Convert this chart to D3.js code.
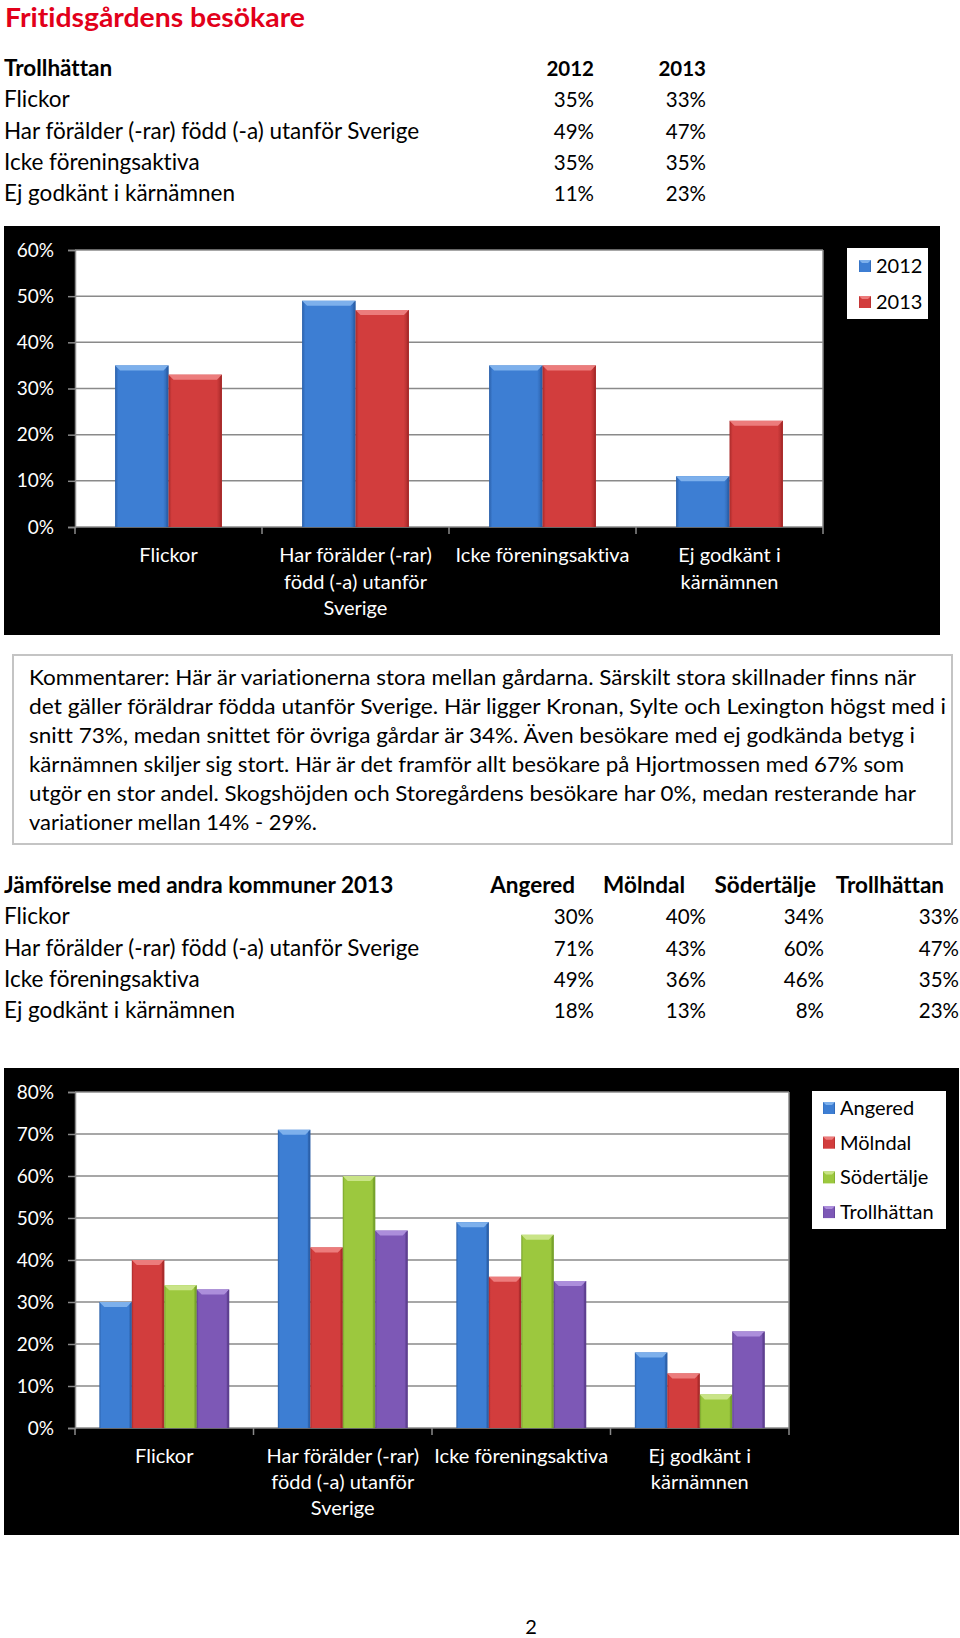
<!DOCTYPE html>
<html><head><meta charset="utf-8">
<script src="https://cdn.jsdelivr.net/npm/d3@7"></script>
<style>
html,body{margin:0;padding:0;background:#fff;}
svg{display:block;font-family:Lato,"Open Sans",sans-serif;font-variant-ligatures:none;font-feature-settings:"liga" 0,"clig" 0;}
</style></head>
<body>
<svg id="page" width="960" height="1638"></svg>
<script>
// ---------- DATA ----------
const titleText = "Fritidsgårdens besökare";
const categories = ["Flickor", "Har förälder (-rar) född (-a) utanför Sverige", "Icke föreningsaktiva", "Ej godkänt i kärnämnen"];
const categoryLines = [["Flickor"], ["Har förälder (-rar)", "född (-a) utanför", "Sverige"], ["Icke föreningsaktiva"], ["Ej godkänt i", "kärnämnen"]];
const years = ["2012", "2013"];
const values2012 = [35, 49, 35, 11];
const values2013 = [33, 47, 35, 23];
const yTicks1 = [0, 10, 20, 30, 40, 50, 60];

const compareTitle = "Jämförelse med andra kommuner 2013";
const municipalities = ["Angered", "Mölndal", "Södertälje", "Trollhättan"];
const valuesAngered = [30, 71, 49, 18];
const valuesMolndal = [40, 43, 36, 13];
const valuesSodertalje = [34, 60, 46, 8];
const valuesTrollhattan = [33, 47, 35, 23];
const yTicks2 = [0, 10, 20, 30, 40, 50, 60, 70, 80];

const commentLines = [
  "Kommentarer: Här är variationerna stora mellan gårdarna. Särskilt stora skillnader finns när",
  "det gäller föräldrar födda utanför Sverige.  Här ligger Kronan, Sylte och Lexington högst med i",
  "snitt 73%, medan  snittet för övriga gårdar är 34%.  Även besökare med ej godkända betyg i",
  "kärnämnen skiljer sig stort. Här är det framför allt besökare på Hjortmossen med 67% som",
  "utgör en stor andel. Skogshöjden och Storegårdens besökare har 0%, medan resterande har",
  "variationer mellan 14% - 29%."
];
const pageNumber = "2";

// ---------- SETUP ----------
const svg = d3.select("#page");
const defs = svg.append("defs");
const palette = {
  blue:   {base:"#3d7ed3", light:"#7db0ec", dark:"#2a5fa8"},
  red:    {base:"#d23d3d", light:"#ec7c7c", dark:"#a82a2a"},
  green:  {base:"#9cc83e", light:"#c9e487", dark:"#76a02a"},
  purple: {base:"#7d58b6", light:"#ac8edb", dark:"#5c3e8e"}
};
Object.entries(palette).forEach(([k, c]) => {
  const g = defs.append("linearGradient").attr("id", "g-" + k).attr("x1", 0).attr("x2", 1).attr("y1", 0).attr("y2", 0);
  [[0, c.dark], [0.06, c.base], [0.35, c.base], [0.9, c.base], [1, c.dark]].forEach(([o, col]) =>
    g.append("stop").attr("offset", o).attr("stop-color", col));
});
const fmtPct = d => d + "%";

// ---------- TITLE ----------
svg.append("text").attr("x", 5).attr("y", 26.5).attr("fill", "#e2001a")
  .attr("font-size", 26).attr("font-weight", "bold")
  .attr("textLength", 300).attr("lengthAdjust", "spacingAndGlyphs").text(titleText);

// ---------- TABLES ----------
function table(yHeader, headerTitle, colNames, colHeaderRight, colValueRight, series, rowGap, colHeadSize) {
  const g = svg.append("g").attr("fill", "#000");
  g.append("text").attr("x", 4).attr("y", yHeader).attr("font-size", 22.5).attr("font-weight", "bold").text(headerTitle);
  colNames.forEach((n, i) => g.append("text").attr("x", colHeaderRight[i]).attr("y", yHeader)
    .attr("text-anchor", "end").attr("font-size", colHeadSize).attr("font-weight", "bold").text(n));
  categories.forEach((c, r) => {
    const y = yHeader + rowGap * (r + 1);
    g.append("text").attr("x", 4).attr("y", y).attr("font-size", 22.5).text(c);
    series.forEach((s, i) => g.append("text").attr("x", colValueRight[i]).attr("y", y)
      .attr("text-anchor", "end").attr("font-size", 20.5).text(fmtPct(s[r])));
  });
}
table(76, "Trollhättan", years, [594, 706], [594, 706], [values2012, values2013], 31.3, 20.5);

// ---------- BAR CHART ----------
function barChart(opt) {
  const g = svg.append("g");
  g.append("rect").attr("x", opt.box[0]).attr("y", opt.box[1]).attr("width", opt.box[2] - opt.box[0])
    .attr("height", opt.box[3] - opt.box[1]).attr("fill", "#000");
  const x0 = d3.scaleBand().domain(categories).range([opt.left, opt.right]).padding(0);
  const bw = x0.bandwidth() / (opt.series.length + 1.5);
  const x1 = d3.scaleBand().domain(opt.names).range([0, bw * opt.series.length]).padding(0);
  const y = d3.scaleLinear().domain([0, opt.max]).range([opt.bottom, opt.top]);
  g.append("rect").attr("x", opt.left).attr("y", opt.top).attr("width", opt.right - opt.left)
    .attr("height", opt.bottom - opt.top).attr("fill", "#fff");
  g.append("g").selectAll("line").data(opt.ticks.filter(t => t > 0)).join("line")
    .attr("x1", opt.left).attr("x2", opt.right).attr("y1", d => y(d)).attr("y2", d => y(d))
    .attr("stroke", "#8a8a8a").attr("stroke-width", 1.5);
  g.append("line").attr("x1", opt.right).attr("x2", opt.right).attr("y1", opt.top).attr("y2", opt.bottom)
    .attr("stroke", "#8a8a8a").attr("stroke-width", 1.5);
  const ya = g.append("g").attr("transform", `translate(${opt.left},0)`)
    .call(d3.axisLeft(y).tickValues(opt.ticks).tickFormat(fmtPct).tickSize(7).tickPadding(14));
  ya.select(".domain").attr("stroke", "#8a8a8a").attr("stroke-width", 1.5);
  ya.selectAll(".tick line").attr("stroke", "#8a8a8a").attr("stroke-width", 1.5);
  ya.selectAll("text").attr("fill", "#fff").attr("font-size", 19).attr("font-family", "Lato,'Open Sans',sans-serif");
  const bounds = categories.map(c => x0(c)).concat([opt.right]);
  g.append("line").attr("x1", opt.left).attr("x2", opt.right).attr("y1", opt.bottom).attr("y2", opt.bottom)
    .attr("stroke", "#8a8a8a").attr("stroke-width", 1.5);
  g.append("g").selectAll("line").data(bounds).join("line")
    .attr("x1", d => d).attr("x2", d => d).attr("y1", opt.bottom).attr("y2", opt.bottom + 7)
    .attr("stroke", "#8a8a8a").attr("stroke-width", 1.5);
  categories.forEach((c, i) => {
    const t = g.append("text").attr("fill", "#fff").attr("font-size", 20).attr("text-anchor", "middle");
    categoryLines[i].forEach((ln, j) => t.append("tspan").attr("x", x0(c) + x0.bandwidth() / 2)
      .attr("y", opt.labelY + j * opt.labelGap).text(ln));
  });
  const groupOff = (x0.bandwidth() - bw * opt.series.length) / 2;
  opt.series.forEach((s, si) => {
    const col = palette[opt.colors[si]];
    s.forEach((v, ci) => {
      const bx = x0(categories[ci]) + groupOff + x1(opt.names[si]);
      const by = y(v), bh = y(0) - y(v), w = x1.bandwidth();
      const bevel = 5;
      g.append("rect").attr("x", bx).attr("y", by).attr("width", w).attr("height", bh)
        .attr("fill", `url(#g-${opt.colors[si]})`);
      g.append("path").attr("d", `M${bx},${by}L${bx + w},${by}L${bx + w - bevel},${by + bevel}L${bx + bevel},${by + bevel}Z`)
        .attr("fill", col.light);
      g.append("path").attr("d", `M${bx + w},${by}L${bx + w},${by + bh}L${bx + w - 2},${by + bh}L${bx + w - 2},${by + 2}Z`)
        .attr("fill", col.dark).attr("opacity", 0.8);
    });
  });
  const lg = svg.append("g");
  lg.append("rect").attr("x", opt.legend[0]).attr("y", opt.legend[1]).attr("width", opt.legend[2] - opt.legend[0])
    .attr("height", opt.legend[3] - opt.legend[1]).attr("fill", "#fff");
  opt.names.forEach((n, i) => {
    const cy = opt.legendY0 + i * opt.legendGap;
    lg.append("rect").attr("x", opt.legendSwX).attr("y", cy - 6).attr("width", 12).attr("height", 12)
      .attr("fill", `url(#g-${opt.colors[i]})`);
    lg.append("path").attr("d", `M${opt.legendSwX},${cy - 6}h12l-3,3h-6z`).attr("fill", palette[opt.colors[i]].light);
    lg.append("text").attr("x", opt.legendSwX + 17).attr("y", cy + 7).attr("font-size", 20).attr("fill", "#000").text(n);
  });
}

barChart({
  box: [4, 226, 940, 635], left: 75, right: 823, top: 250, bottom: 527, max: 60, ticks: yTicks1,
  series: [values2012, values2013], names: years, colors: ["blue", "red"],
  labelY: 562, labelGap: 26.5,
  legend: [847, 248, 928, 319], legendSwX: 859, legendY0: 266, legendGap: 36
});

// ---------- COMMENT BOX ----------
const cg = svg.append("g");
cg.append("rect").attr("x", 13).attr("y", 655).attr("width", 939).attr("height", 189)
  .attr("fill", "#fff").attr("stroke", "#c4c4c4").attr("stroke-width", 2);
const commentWidths = [887, 917, 886, 875, 887, 288];
commentLines.forEach((ln, i) => cg.append("text").attr("x", 29).attr("y", 685 + i * 29)
  .attr("font-size", 21).attr("fill", "#000")
  .attr("textLength", commentWidths[i]).attr("lengthAdjust", "spacingAndGlyphs").text(ln));

table(893, compareTitle, municipalities, [575, 685, 816, 944], [594, 706, 824, 959],
  [valuesAngered, valuesMolndal, valuesSodertalje, valuesTrollhattan], 31.3, 22.5);

barChart({
  box: [4, 1068, 959, 1535], left: 75, right: 789, top: 1092, bottom: 1428, max: 80, ticks: yTicks2,
  series: [valuesAngered, valuesMolndal, valuesSodertalje, valuesTrollhattan], names: municipalities,
  colors: ["blue", "red", "green", "purple"],
  labelY: 1463, labelGap: 26,
  legend: [812, 1091, 946, 1229], legendSwX: 823, legendY0: 1108, legendGap: 34.7
});

svg.append("text").attr("x", 531).attr("y", 1634).attr("text-anchor", "middle").attr("font-size", 20)
  .attr("fill", "#000").text(pageNumber);
</script>
</body></html>
